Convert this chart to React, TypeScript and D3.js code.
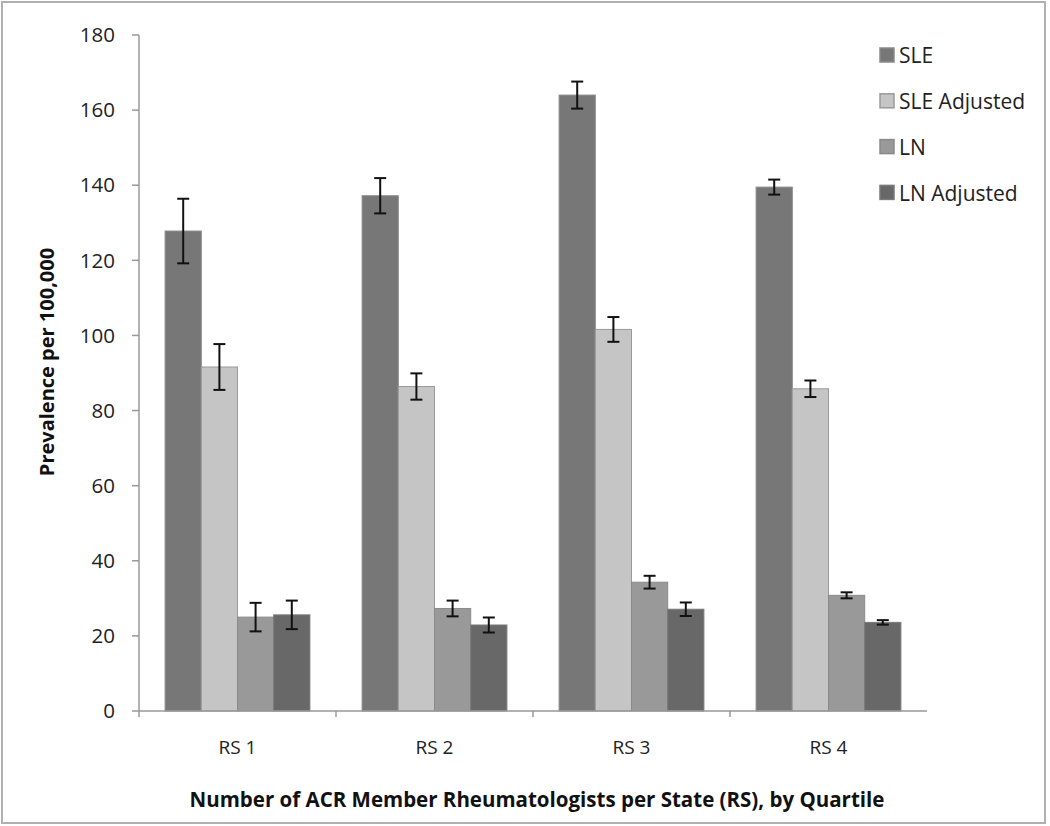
import React, { useEffect, useRef } from "react";
import * as d3 from "d3";

const categories = ["RS 1", "RS 2", "RS 3", "RS 4"];
const seriesNames = ["SLE", "SLE Adjusted", "LN", "LN Adjusted"];
const sleValues = [127.8, 137.2, 164.0, 139.5];
const sleErr = [8.6, 4.7, 3.6, 2.0];
const sleAdjValues = [91.6, 86.4, 101.6, 85.8];
const sleAdjErr = [6.1, 3.5, 3.3, 2.2];
const lnValues = [25.0, 27.3, 34.3, 30.8];
const lnErr = [3.8, 2.1, 1.7, 0.8];
const lnAdjValues = [25.6, 22.9, 27.1, 23.6];
const lnAdjErr = [3.8, 2.0, 1.8, 0.6];
const yTicks = [0, 20, 40, 60, 80, 100, 120, 140, 160, 180];
const colors = ["#777777", "#c5c5c5", "#999999", "#686868"];
const strokes = ["#8a8a8a", "#9a9a9a", "#8a8a8a", "#7a7a7a"];

const seriesValues = [sleValues, sleAdjValues, lnValues, lnAdjValues];
const seriesErrs = [sleErr, sleAdjErr, lnErr, lnAdjErr];

const W = 1050;
const H = 826;
const FONT = "'Open Sans', 'DejaVu Sans', sans-serif";

export default function App() {
  const ref = useRef<SVGSVGElement>(null);
  useEffect(() => {
    const svg = d3.select(ref.current);
    svg.selectAll("*").remove();

    const left = 139, right = 927, top = 35, bottom = 711;
    const y = d3.scaleLinear().domain([0, 180]).range([bottom, top]);
    const x0 = d3.scaleBand().domain(categories).range([left, right]).paddingInner(0.265).paddingOuter(0.1325);
    const x1 = d3.scaleBand().domain(seriesNames).range([0, x0.bandwidth()]);

    svg.append("rect").attr("x", 2).attr("y", 2).attr("width", 1043).attr("height", 821)
      .attr("fill", "#fff").attr("stroke", "#b0b0b0").attr("stroke-width", 2);

    // bars
    seriesNames.forEach((s, si) => {
      categories.forEach((c, ci) => {
        const v = seriesValues[si][ci];
        svg.append("rect")
          .attr("x", (x0(c) as number) + (x1(s) as number))
          .attr("y", y(v))
          .attr("width", x1.bandwidth())
          .attr("height", bottom - y(v))
          .attr("fill", colors[si])
          .attr("stroke", strokes[si])
          .attr("stroke-width", 1);
      });
    });

    // error bars
    seriesNames.forEach((s, si) => {
      categories.forEach((c, ci) => {
        const v = seriesValues[si][ci];
        const e = seriesErrs[si][ci];
        const cx = (x0(c) as number) + (x1(s) as number) + x1.bandwidth() / 2;
        const g = svg.append("g").attr("stroke", "#111").attr("stroke-width", 2);
        g.append("line").attr("x1", cx).attr("x2", cx).attr("y1", y(v + e)).attr("y2", y(v - e));
        g.append("line").attr("x1", cx - 6).attr("x2", cx + 6).attr("y1", y(v + e)).attr("y2", y(v + e));
        g.append("line").attr("x1", cx - 6).attr("x2", cx + 6).attr("y1", y(v - e)).attr("y2", y(v - e));
      });
    });

    // axes
    const axisColor = "#999";
    svg.append("line").attr("x1", left).attr("x2", left).attr("y1", top).attr("y2", bottom + 6)
      .attr("stroke", axisColor).attr("stroke-width", 1.5);
    svg.append("line").attr("x1", left).attr("x2", right).attr("y1", bottom).attr("y2", bottom)
      .attr("stroke", axisColor).attr("stroke-width", 1.5);
    yTicks.forEach((t) => {
      svg.append("line").attr("x1", left - 7).attr("x2", left).attr("y1", y(t)).attr("y2", y(t))
        .attr("stroke", axisColor).attr("stroke-width", 1.5);
      svg.append("text").attr("x", 115).attr("y", y(t)).attr("dy", "0.35em")
        .attr("text-anchor", "end").attr("font-family", FONT).attr("font-size", 20.5)
        .attr("fill", "#222").text(String(t));
    });
    const step = x0.step();
    categories.forEach((c, i) => {
      const bx = left + step * (i + 1);
      if (i < categories.length - 1) {
        svg.append("line").attr("x1", bx).attr("x2", bx).attr("y1", bottom).attr("y2", bottom + 6)
          .attr("stroke", axisColor).attr("stroke-width", 1.5);
      }
      svg.append("text").attr("x", (x0(c) as number) + x0.bandwidth() / 2).attr("y", 747)
        .attr("dy", "0.35em").attr("text-anchor", "middle").attr("font-family", FONT)
        .attr("font-size", 19).attr("fill", "#222").text(c);
    });

    // titles
    svg.append("text").attr("x", 537).attr("y", 800).attr("dy", "0.35em").attr("text-anchor", "middle")
      .attr("font-family", FONT).attr("font-size", 20.5).attr("font-weight", "bold").attr("fill", "#111")
      .text("Number of ACR Member Rheumatologists per State (RS), by Quartile");
    svg.append("text").attr("transform", "translate(47,362) rotate(-90)").attr("dy", "0.35em")
      .attr("text-anchor", "middle").attr("font-family", FONT).attr("font-size", 20)
      .attr("font-weight", "bold").attr("fill", "#111").text("Prevalence per 100,000");

    // legend
    seriesNames.forEach((s, i) => {
      const ly = 48 + i * 45.8;
      svg.append("rect").attr("x", 880).attr("y", ly).attr("width", 14).attr("height", 14)
        .attr("fill", colors[i]).attr("stroke", strokes[i]).attr("stroke-width", 1.5);
      svg.append("text").attr("x", 899).attr("y", ly + 8).attr("dy", "0.35em")
        .attr("font-family", FONT).attr("font-size", 21).attr("fill", "#222").text(s);
    });
  }, []);

  return (
    <svg ref={ref} width={W} height={H}
      style={{ position: "absolute", left: 0, top: 0, background: "#fff" }} />
  );
}
